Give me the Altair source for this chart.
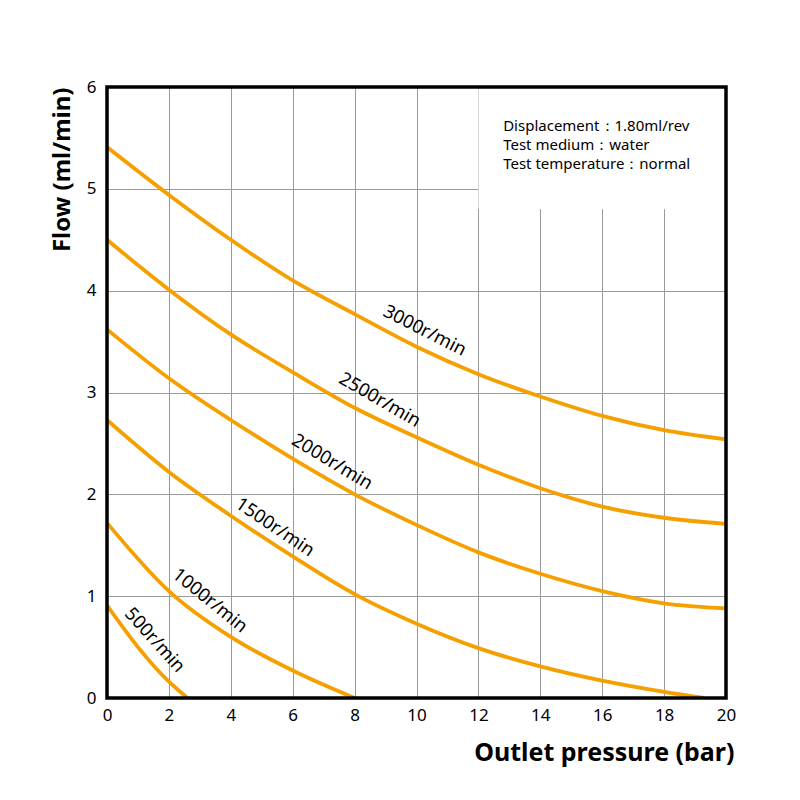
import altair as alt
import pandas as pd

# Flow vs. outlet pressure for each pump speed
speeds = ["3000r/min", "2500r/min", "2000r/min", "1500r/min", "1000r/min", "500r/min"]

p_full = [0, 2, 4, 6, 8, 10, 12, 14, 16, 18, 20]
q3000 = [5.41, 4.94, 4.50, 4.10, 3.77, 3.45, 3.18, 2.96, 2.77, 2.63, 2.54]
q2500 = [4.50, 4.01, 3.57, 3.20, 2.85, 2.56, 2.29, 2.06, 1.88, 1.77, 1.71]
q2000 = [3.62, 3.14, 2.73, 2.35, 2.00, 1.70, 1.43, 1.22, 1.05, 0.93, 0.88]

p1500 = [0, 2, 4, 6, 8, 10, 12, 14, 16, 18, 19.3]
q1500 = [2.73, 2.22, 1.79, 1.39, 1.02, 0.73, 0.49, 0.31, 0.17, 0.06, 0.0]

p1000 = [0, 2, 4, 6, 8]
q1000 = [1.72, 1.05, 0.60, 0.27, 0.0]

p500 = [0, 1, 2, 2.6]
q500 = [0.91, 0.50, 0.16, 0.0]

# Curve labels: position along each curve and rotation
label_x = [10.27, 8.82, 7.28, 5.43, 3.33, 1.55]
label_y = [3.61, 2.93, 2.32, 1.68, 0.96, 0.57]
label_angle = [27, 30, 31, 34, 39, 48]

# Test conditions note
note_lines = ["Displacement：1.80ml/rev", "Test medium：water", "Test temperature：normal"]
note_x = [12.8, 12.8, 12.8]
note_y = [5.62, 5.43, 5.24]
note_box = {"x": [12], "x2": [20], "y": [4.8], "y2": [6]}

# Plot frame extents
frame = {"x": [0], "x2": [20], "y": [0], "y2": [6]}

rows = []
for name, ps, qs in [
    (speeds[0], p_full, q3000),
    (speeds[1], p_full, q2500),
    (speeds[2], p_full, q2000),
    (speeds[3], p1500, q1500),
    (speeds[4], p1000, q1000),
    (speeds[5], p500, q500),
]:
    for i, (p, q) in enumerate(zip(ps, qs)):
        rows.append({"speed": name, "pressure": p, "flow": q, "order": i})
curves = pd.DataFrame(rows)

labels = pd.DataFrame({"text": speeds, "x": label_x, "y": label_y, "angle": label_angle})
notes = pd.DataFrame({"text": note_lines, "x": note_x, "y": note_y})
box = pd.DataFrame(note_box)
frame_df = pd.DataFrame(frame)

FONT = "Noto Sans"
ORANGE = "#F5A000"

xscale = alt.Scale(domain=[0, 20], nice=False)
yscale = alt.Scale(domain=[0, 6], nice=False)

x_axis = alt.Axis(
    values=list(range(0, 21, 2)), title="Outlet pressure (bar)", ticks=False,
    domain=False, grid=True, gridColor="#9a9a9a", gridWidth=1, format="d",
    labelFontSize=17, labelFont=FONT, labelColor="black", labelPadding=9,
    labelFlush=False, labelAlign="center",
    titleFontSize=25, titleFont=FONT, titleFontWeight="bold", titleColor="black",
    titleX=627, titleY=54, titleAlign="right", titleBaseline="middle",
)
y_axis = alt.Axis(
    values=list(range(0, 7)), title="Flow (ml/min)", ticks=False,
    domain=False, grid=True, gridColor="#9a9a9a", gridWidth=1, format="d",
    labelFontSize=17, labelFont=FONT, labelColor="black", labelPadding=11,
    labelFlush=False, labelBaseline="middle",
    titleFontSize=24, titleFont=FONT, titleFontWeight="bold", titleColor="black",
    titleX=-45, titleY=0, titleAngle=-90, titleAlign="right", titleBaseline="middle",
)

base_box = alt.Chart(box).mark_rect(color="white").encode(
    x=alt.X("x:Q", scale=xscale, axis=x_axis),
    x2="x2:Q",
    y=alt.Y("y:Q", scale=yscale, axis=y_axis),
    y2="y2:Q",
)

lines = alt.Chart(curves).mark_line(
    color=ORANGE, strokeWidth=3.8, interpolate="monotone", clip=True
).encode(
    x=alt.X("pressure:Q", scale=xscale),
    y=alt.Y("flow:Q", scale=yscale),
    detail="speed:N",
    order="order:Q",
)

curve_labels = alt.Chart(labels).mark_text(
    font=FONT, fontSize=18.5, color="black", align="center", baseline="middle"
).encode(
    x="x:Q", y="y:Q", text="text:N", angle=alt.Angle("angle:Q", scale=None)
)

note_text = alt.Chart(notes).mark_text(
    font=FONT, fontSize=15, color="black", align="left", baseline="middle"
).encode(x="x:Q", y="y:Q", text="text:N")

frame_rect = alt.Chart(frame_df).mark_rect(
    filled=False, stroke="black", strokeWidth=3.5
).encode(x="x:Q", x2="x2:Q", y="y:Q", y2="y2:Q")

chart = alt.layer(base_box, lines, curve_labels, note_text, frame_rect).properties(
    width=619, height=611,
    autosize=alt.AutoSizeParams(type="none"),
    padding={"left": 107, "top": 87, "right": 74, "bottom": 102},
    background="white",
).configure_view(stroke=None)

chart.save("out.html", embed_options={"renderer": "svg", "actions": False})
